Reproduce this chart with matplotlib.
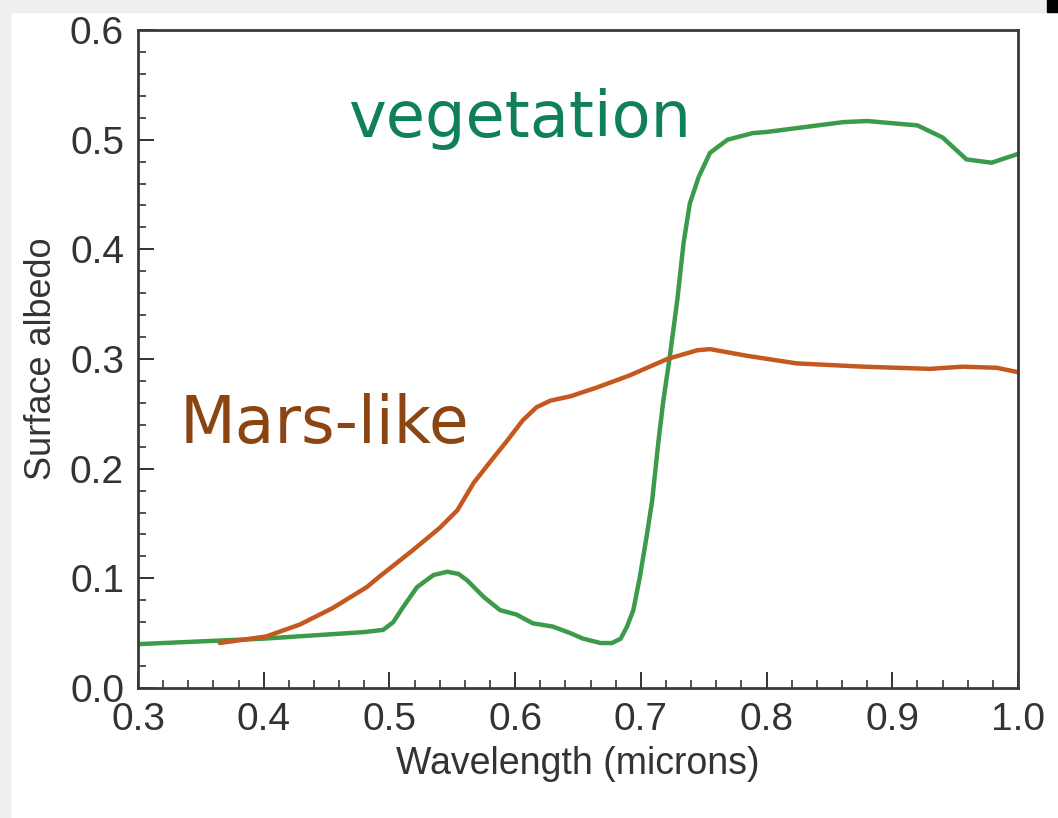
import matplotlib
matplotlib.use("Agg")
import matplotlib.pyplot as plt
from matplotlib.patches import Rectangle
from matplotlib.ticker import MultipleLocator

# vegetation reflectance
veg_x = [0.30, 0.40, 0.48, 0.495, 0.503, 0.511, 0.522, 0.535, 0.546, 0.555, 0.562,
         0.575, 0.588, 0.601, 0.614, 0.630, 0.644, 0.654, 0.668, 0.677, 0.684,
         0.689, 0.694, 0.699, 0.705, 0.709, 0.714, 0.718, 0.723, 0.729, 0.734,
         0.739, 0.746, 0.755, 0.769, 0.789, 0.80, 0.827, 0.861, 0.88, 0.92,
         0.94, 0.959, 0.979, 1.0]
veg_y = [0.040, 0.045, 0.051, 0.053, 0.060, 0.074, 0.092, 0.103, 0.106, 0.104, 0.098,
         0.083, 0.071, 0.067, 0.059, 0.056, 0.050, 0.045, 0.041, 0.041, 0.045,
         0.056, 0.071, 0.100, 0.141, 0.171, 0.225, 0.263, 0.302, 0.354, 0.406,
         0.442, 0.466, 0.488, 0.500, 0.506, 0.507, 0.511, 0.516, 0.517, 0.513,
         0.502, 0.482, 0.479, 0.487]

# Mars-like surface
mars_x = [0.365, 0.402, 0.429, 0.455, 0.482, 0.4925, 0.519, 0.540, 0.554, 0.567,
          0.580, 0.594, 0.606, 0.617, 0.628, 0.644, 0.665, 0.691, 0.721, 0.745,
          0.755, 0.784, 0.824, 0.877, 0.930, 0.956, 0.983, 1.0]
mars_y = [0.041, 0.047, 0.058, 0.073, 0.092, 0.102, 0.126, 0.146, 0.162, 0.187,
          0.206, 0.226, 0.244, 0.256, 0.262, 0.266, 0.274, 0.285, 0.300, 0.308,
          0.309, 0.303, 0.296, 0.293, 0.291, 0.293, 0.292, 0.288]

plt.rcParams['font.family'] = ['Liberation Sans', 'DejaVu Sans']

fig = plt.figure(figsize=(10.58, 8.18), dpi=100)
# screenshot edges
fig.patches.append(Rectangle((0, 1 - 12/818), 1, 12/818, transform=fig.transFigure,
                             color='#efefef', zorder=0))
fig.patches.append(Rectangle((0, 0), 10/1058, 1, transform=fig.transFigure,
                             color='#efefef', zorder=0))
fig.patches.append(Rectangle((1047/1058, 1 - 12/818), 11/1058, 12/818,
                             transform=fig.transFigure, color='black', zorder=1))

ax = fig.add_axes([138/1058, 1 - 688/818, 880/1058, 658/818])
ax.plot(veg_x, veg_y, color='#3c9b4b', lw=3.2, solid_joinstyle='round',
        solid_capstyle='round')
ax.plot(mars_x, mars_y, color='#c4581e', lw=3.2, solid_joinstyle='round',
        solid_capstyle='round')

ax.set_xlim(0.3, 1.0)
ax.set_ylim(0.0, 0.6)
ax.xaxis.set_major_locator(MultipleLocator(0.1))
ax.xaxis.set_minor_locator(MultipleLocator(0.02))
ax.yaxis.set_major_locator(MultipleLocator(0.1))
ax.yaxis.set_minor_locator(MultipleLocator(0.02))
ax.xaxis.set_major_formatter(plt.FormatStrFormatter('%.1f'))
ax.yaxis.set_major_formatter(plt.FormatStrFormatter('%.1f'))
ax.tick_params(which='both', direction='in', top=False, right=False,
               color='#333333', labelcolor='#333333', labelsize=28, pad=10)
ax.tick_params(which='major', length=11.5, width=1.4)
ax.tick_params(which='minor', length=6, width=1.2)
for s in ax.spines.values():
    s.set_linewidth(2)
    s.set_color('#3a3a3a')

ax.set_xlabel('Wavelength (microns)', fontsize=27, color='#333333', labelpad=6)
ax.set_ylabel('Surface albedo', fontsize=26, color='#333333', labelpad=8)

ax.text(0.467, 0.502, 'vegetation', fontsize=46, color='#10805a',
        family='DejaVu Sans')
ax.text(0.333, 0.223, 'Mars-like', fontsize=46.5, color='#8b4513',
        family='DejaVu Sans')

fig.savefig('out.png', dpi=100)
